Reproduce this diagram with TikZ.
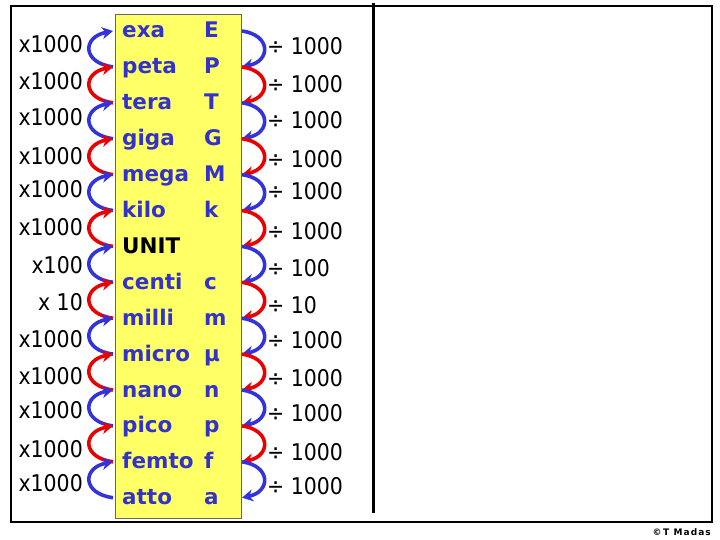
\documentclass[tikz,border=0pt]{standalone}
\usepackage{fontspec}
\usetikzlibrary{arrows.meta}
\setmainfont{DejaVu Sans}
\newfontfamily\numfont[FakeStretch=0.89]{DejaVu Sans}
\newfontfamily\crfont[LetterSpace=12]{DejaVu Sans}
\definecolor{txtblue}{RGB}{51,51,204}
\definecolor{arcblue}{RGB}{51,51,221}
\definecolor{arcred}{RGB}{235,0,0}
\definecolor{boxyellow}{RGB}{255,255,102}
\begin{document}
\begin{tikzpicture}[x=1pt,y=-1pt,
  pref/.style={anchor=base west,inner sep=0pt,font=\fontsize{21.5}{21.5}\selectfont\bfseries,text=txtblue},
  lab/.style={inner sep=0pt,font=\numfont\fontsize{23}{23}\selectfont},
  arcline/.style={line width=3.6pt,-{Stealth[length=11pt,width=12pt,inset=3.5pt]}},
]
\useasboundingbox (0,0) rectangle (720,540);
\draw[line width=1.2pt] (11,6) rectangle (712,522);
\draw[line width=3pt] (373,3) -- (373,513);
\draw[fill=boxyellow,draw=black!60,line width=0.8pt] (115,14) rectangle (241,518);
\foreach \n/\s/\c [count=\i] in {exa/E/txtblue,peta/P/txtblue,tera/T/txtblue,giga/G/txtblue,mega/M/txtblue,kilo/k/txtblue,UNIT//black,centi/c/txtblue,milli/m/txtblue,micro/µ/txtblue,nano/n/txtblue,pico/p/txtblue,femto/f/txtblue,atto/a/txtblue}{
  \pgfmathsetmacro\yb{38+35.9*(\i-1)}
  \node[pref,text=\c] (p\i) at (122,\yb) {\n};
  \node[pref,text=\c] (s\i) at (204,\yb) {\s};
  \coordinate (L\i) at (113,\yb-7);
  \coordinate (R\i) at (242,\yb-7);
}
\foreach \i/\col in {1/arcblue,2/arcred,3/arcblue,4/arcred,5/arcblue,6/arcred,7/arcblue,8/arcred,9/arcblue,10/arcred,11/arcblue,12/arcred,13/arcblue}{
  \pgfmathtruncatemacro\j{\i+1}
  \draw[arcline,\col] (L\j) .. controls +(-31,-4) and +(-31,6) .. (L\i);
  \draw[arcline,\col] (R\i) .. controls +(29,4) and +(29,-6) .. (R\j);
}
\foreach \t/\y [count=\k] in {x1000/45,x1000/82,x1000/118,x1000/157,x1000/190,x1000/228,x100/265,x 10/302,x1000/339,x1000/376,x1000/410,x1000/449,x1000/483}{
  \node[lab,anchor=base east] (ml\k) at (83,\y+8) {\t};
}
\foreach \t/\y [count=\k] in {1000/47,1000/85,1000/121,1000/160,1000/192,1000/232,100/268,10/305,1000/340,1000/378,1000/413,1000/452,1000/486}{
  \node[lab,anchor=base west] (mr\k) at (267,\y+8) {÷ \t};
}
\node[anchor=base east,inner sep=0pt,font=\crfont\fontsize{9}{9}\selectfont\bfseries] (cr) at (711,535) {©\,T Madas};
\end{tikzpicture}
\end{document}
